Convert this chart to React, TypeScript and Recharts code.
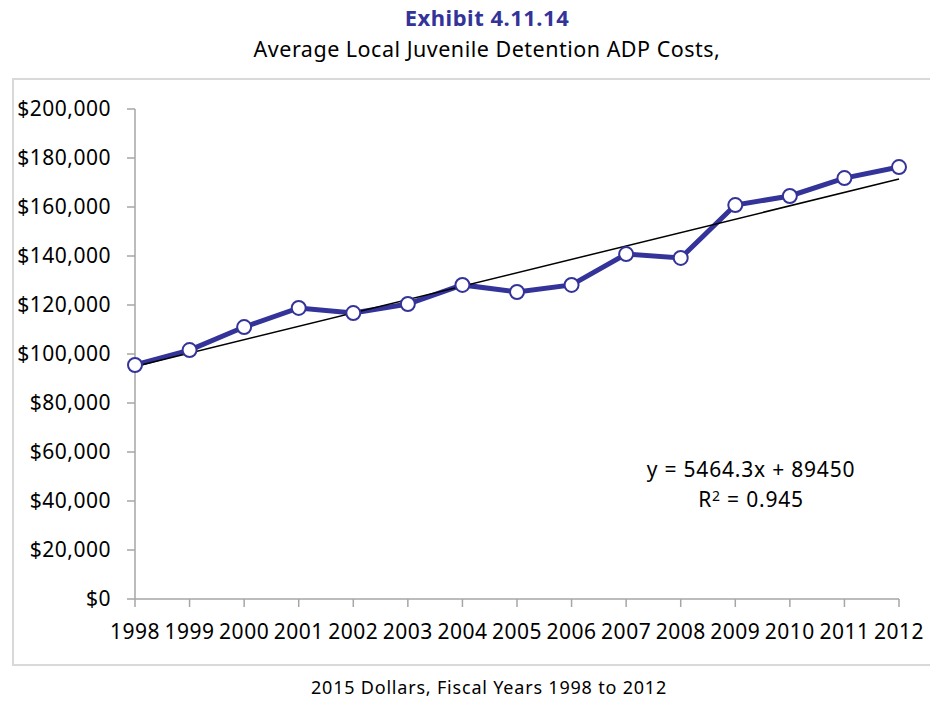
import { LineChart, Line, XAxis, YAxis, ReferenceLine } from 'recharts'

// fiscal years and average ADP cost (2015 dollars)
const years = ['1998', '1999', '2000', '2001', '2002', '2003', '2004', '2005', '2006', '2007', '2008', '2009', '2010', '2011', '2012']
const costs = [95500, 101600, 111000, 118800, 116700, 120400, 128200, 125300, 128200, 140800, 139200, 160800, 164500, 171800, 176300]
const yTicks = [0, 20000, 40000, 60000, 80000, 100000, 120000, 140000, 160000, 180000, 200000]

// linear trend y = 5464.3x + 89450, at x = 1 and x = 15
const trendFrom = 94914
const trendTo = 171415

const data = years.map((year, i) => ({ year, cost: costs[i] }))

const FONT = '"Noto Sans", "Open Sans", sans-serif'
const BLUE = '#333399'
const AXIS = '#a6a6a6'

const money = (v: number) => '$' + v.toLocaleString('en-US')

const tickStyle = { fill: '#000', fontSize: 21, fontFamily: FONT, letterSpacing: 0.5 }

export default function App() {
  return (
    <div
      style={{
        position: 'absolute',
        left: 0,
        top: 0,
        width: 930,
        height: 702,
        overflow: 'hidden',
        background: '#fff',
        fontFamily: FONT,
      }}
    >
      <div style={{ position: 'absolute', top: 2, width: 974, textAlign: 'center', fontSize: 22, fontWeight: 700, letterSpacing: 0.5, color: BLUE }}>
        Exhibit 4.11.14
      </div>
      <div style={{ position: 'absolute', top: 34, width: 974, textAlign: 'center', fontSize: 21.5, letterSpacing: 0.5, color: '#000' }}>
        Average Local Juvenile Detention ADP Costs,
      </div>
      <div
        style={{
          position: 'absolute',
          left: 12,
          top: 78,
          width: 930,
          height: 588,
          border: '2px solid #d9d9d9',
          boxSizing: 'border-box',
        }}
      />
      <div style={{ position: 'absolute', top: 675, width: 978, textAlign: 'center', fontSize: 18, letterSpacing: 0.8, color: '#000' }}>
        2015 Dollars, Fiscal Years 1998 to 2012
      </div>

      <div style={{ position: 'absolute', left: 0, top: 0 }}>
        <LineChart width={930} height={702} data={data} margin={{ top: 109, right: 31, left: 35, bottom: 63 }}>
          <XAxis
            dataKey="year"
            height={40}
            interval={0}
            tickSize={8}
            tickMargin={17}
            stroke={AXIS}
            strokeWidth={1.5}
            tick={tickStyle}
          />
          <YAxis
            width={100}
            domain={[0, 200000]}
            ticks={yTicks}
            tickFormatter={money}
            tickSize={8}
            tickMargin={16}
            stroke={AXIS}
            strokeWidth={1.5}
            tick={tickStyle}
          />
          <Line
            type="linear"
            dataKey="cost"
            stroke={BLUE}
            strokeWidth={5}
            dot={{ r: 7, fill: '#fff', stroke: BLUE, strokeWidth: 2 }}
            isAnimationActive={false}
          />
          <ReferenceLine
            segment={[
              { x: '1998', y: trendFrom },
              { x: '2012', y: trendTo },
            ]}
            stroke="#000"
            strokeWidth={1.5}
          />
        </LineChart>
      </div>

      <div style={{ position: 'absolute', left: 621, top: 455, width: 260, textAlign: 'center', fontSize: 21, letterSpacing: 0.8, color: '#000' }}>
        y = 5464.3x + 89450
      </div>
      <div style={{ position: 'absolute', left: 621, top: 485, width: 260, textAlign: 'center', fontSize: 21, letterSpacing: 0.8, color: '#000' }}>
        R<sup style={{ fontSize: 14, verticalAlign: 'top', lineHeight: 1.5 }}>2</sup> = 0.945
      </div>
    </div>
  )
}
